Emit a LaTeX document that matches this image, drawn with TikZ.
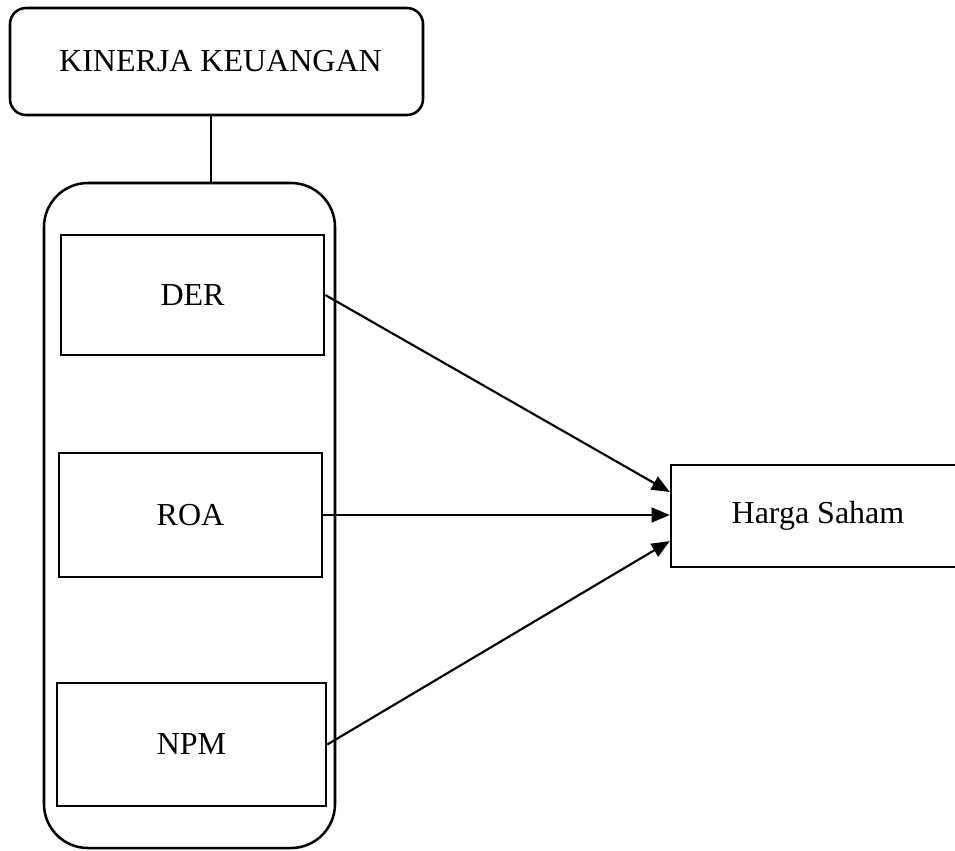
\documentclass[tikz,border=0pt]{standalone}
\usepackage{fontspec}
\setmainfont{Liberation Serif}
\usetikzlibrary{arrows.meta,calc}
\begin{document}
\begin{tikzpicture}[x=0.75pt,y=-0.75pt,
  box/.style={draw,line width=1.9pt,inner sep=0pt,font=\fontsize{24}{28}\selectfont},
  rbox/.style={box,rounded corners=12pt},
  conn/.style={line width=1.6pt},
  arr/.style={conn,-{Triangle[length=13.5pt,width=11pt]}}]
\useasboundingbox (0,0) rectangle (955,850);
\node[rbox,minimum width=309.75pt,minimum height=80.25pt] (kk) at (216.5,61.5) {\hspace*{6pt}KINERJA KEUANGAN};
\node[box,rounded corners=33pt,minimum width=218.25pt,minimum height=498.75pt] (grp) at (189.5,515.5) {};
\node[box,minimum width=197.25pt,minimum height=90pt] (der) at (192.5,295) {DER};
\node[box,minimum width=197.25pt,minimum height=93pt] (roa) at (190.5,515) {ROA};
\node[box,minimum width=201.75pt,minimum height=92.25pt] (npm) at (191.5,744.5) {NPM};
\node[box,minimum width=220.5pt,minimum height=76.5pt] (hs) at (818,516) {Harga Saham};
\coordinate (k1) at ($(kk.south)+(-5.5,0)$);
\draw[conn] (k1) -- (k1 |- grp.north);
\coordinate (t1) at ($(hs.north west)!0.27!(hs.south west)$);
\coordinate (t3) at ($(hs.north west)!0.74!(hs.south west)$);
\draw[arr] (der.east) -- (t1);
\draw[arr] (roa.east) -- (roa.east -| hs.west);
\draw[arr] (npm.east) -- (t3);
\end{tikzpicture}
\end{document}
